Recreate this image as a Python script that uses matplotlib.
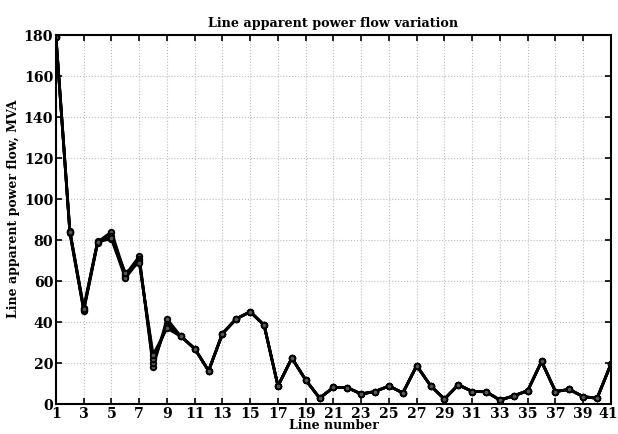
#!/usr/bin/env python3

import matplotlib
matplotlib.use("Agg")
import matplotlib.pyplot as plt
import matplotlib.transforms as mtransforms
import numpy as np


LINES = list(range(1, 42))

# first nine lines differ between the runs, the rest coincide
HEAD_A = [179, 84.0, 46.0, 79.0, 84.0, 63.0, 72.0, 18.0, 41.5]
HEAD_B = [179, 83.5, 45.5, 78.5, 82.0, 62.0, 71.0, 20.0, 39.0]
HEAD_C = [179, 84.5, 47.0, 79.5, 80.5, 61.5, 70.0, 22.0, 38.0]
HEAD_D = [179, 84.0, 46.5, 79.0, 81.0, 64.0, 69.0, 24.0, 37.0]

TAIL = [
    33.0, 27.0, 16.2, 34.4, 41.6, 45.0, 38.5, 8.8, 22.4, 11.7,
    2.9, 8.1, 8.0, 4.9, 6.1, 8.8, 5.4, 18.7, 8.9, 2.4,
    9.4, 6.1, 6.0, 1.9, 4.0, 6.5, 20.8, 6.1, 7.1, 3.6,
    2.8, 19.5,
]

RUNS = [HEAD_A, HEAD_B, HEAD_C, HEAD_D]


def main():
    plt.rcParams["font.family"] = "DejaVu Serif"
    plt.rcParams["font.weight"] = "bold"

    fig = plt.figure(figsize=(6.18, 4.34), dpi=100)
    ax = fig.add_axes([0.0906, 0.0691, 0.898, 0.85])

    for head in RUNS:
        ax.plot(LINES, head + TAIL, "-o", color="black", lw=2.0,
                markersize=4.0, markerfacecolor="#555555",
                markeredgewidth=1.3)

    ax.set_xlim(1, 41)
    ax.set_ylim(0, 180)
    ax.set_xticks(np.arange(1, 42, 2))
    ax.set_yticks(np.arange(0, 181, 20))
    ax.grid(True, color="#bbbbbb", linestyle=":", linewidth=0.8)
    ax.tick_params(direction="in", top=True, right=True, length=4,
                   width=1.2, labelsize=10.2, pad=2)
    for lab in ax.get_xticklabels() + ax.get_yticklabels():
        lab.set_fontweight("bold")
    for side in ax.spines.values():
        side.set_linewidth(1.5)

    ax.set_title("Line apparent power flow variation", fontsize=9.2,
                 fontweight="bold", pad=6)
    ax.set_xlabel("Line number", fontsize=9, fontweight="bold", labelpad=-1)
    ax.set_ylabel("Line apparent power flow, MVA", fontsize=9,
                  fontweight="bold")
    ax.yaxis.set_label_coords(-0.064, 0.53)

    # nudge the last x label so it stays inside the figure
    last = ax.xaxis.get_major_ticks()[-1].label1
    shift = mtransforms.ScaledTranslation(-3 / 100, 0, fig.dpi_scale_trans)
    last.set_transform(last.get_transform() + shift)

    fig.savefig("out.png", dpi=100)


if __name__ == "__main__":
    main()
